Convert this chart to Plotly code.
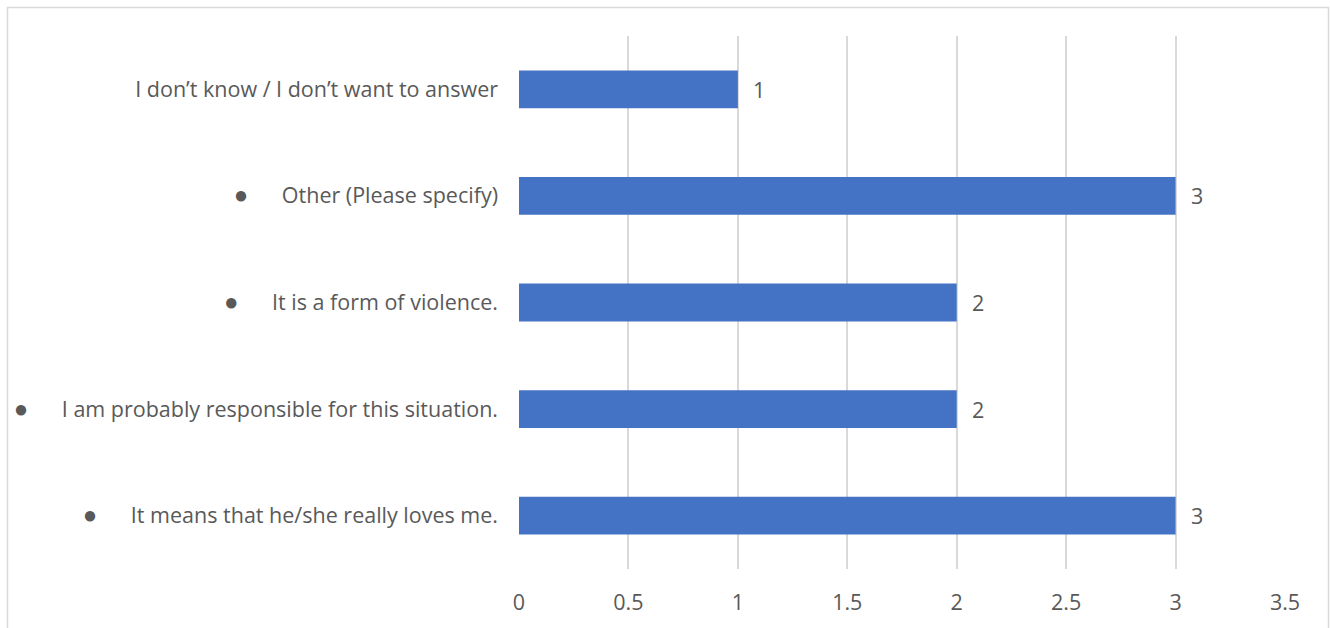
import plotly.graph_objects as go

# Survey responses, listed bottom to top as drawn on the category axis
categories = [
    "It means that he/she really loves me.",
    "I am probably responsible for this situation.",
    "It is a form of violence.",
    "Other (Please specify)",
    "I don’t know / I don’t want to answer",
]
bulleted = [True, True, True, True, False]
# Number of spaces between the bullet and the text
bullet_gap = [6, 6, 6, 6, 0]
counts = [3, 2, 2, 3, 1]

x_ticks = [0, 0.5, 1, 1.5, 2, 2.5, 3, 3.5]
x_tick_labels = ["0", "0.5", "1", "1.5", "2", "2.5", "3", "3.5"]

TEXT = "#595959"
FONT = "Open Sans"
FS = 21.5
NB = "\u00a0"


def label(text, has_bullet, gap):
    if not has_bullet:
        return text
    return "<span style='font-size:24px'>●</span>" + NB * gap + text


tick_text = [label(c, b, g) for c, b, g in zip(categories, bulleted, bullet_gap)]

fig = go.Figure(
    go.Bar(
        x=counts,
        y=categories,
        orientation="h",
        marker=dict(color="#4472C4", line=dict(width=0)),
        width=0.355,
        hoverinfo="skip",
    )
)

for c, v in zip(categories, counts):
    fig.add_annotation(
        x=v, y=c, text=str(v), showarrow=False,
        xanchor="left", xshift=13,
        font=dict(family=FONT, size=FS, color=TEXT),
    )

# Outer chart frame
fig.add_shape(
    type="rect", xref="paper", yref="paper",
    x0=-511.5 / 766, x1=809.5 / 766, y0=-0.2, y1=(571 - 7.5) / 535,
    line=dict(color="#D9D9D9", width=1.5), fillcolor="rgba(0,0,0,0)",
    layer="below",
)

fig.update_layout(
    width=1330, height=628,
    margin=dict(l=519, r=45, t=36, b=57),
    paper_bgcolor="white", plot_bgcolor="white",
    showlegend=False,
    bargap=0.645,
    font=dict(family=FONT, size=FS, color=TEXT),
    xaxis=dict(
        range=[0, 3.5], tickvals=x_ticks, ticktext=x_tick_labels,
        showgrid=True, gridcolor="#D9D9D9", gridwidth=2,
        zeroline=False, showline=False, ticks="",
        ticklabelstandoff=18, fixedrange=True,
    ),
    yaxis=dict(
        categoryorder="array", categoryarray=categories,
        tickvals=categories, ticktext=tick_text,
        showgrid=False, zeroline=False, showline=False, ticks="",
        ticklabelstandoff=20, fixedrange=True,
    ),
)

fig.write_html("out.html")
